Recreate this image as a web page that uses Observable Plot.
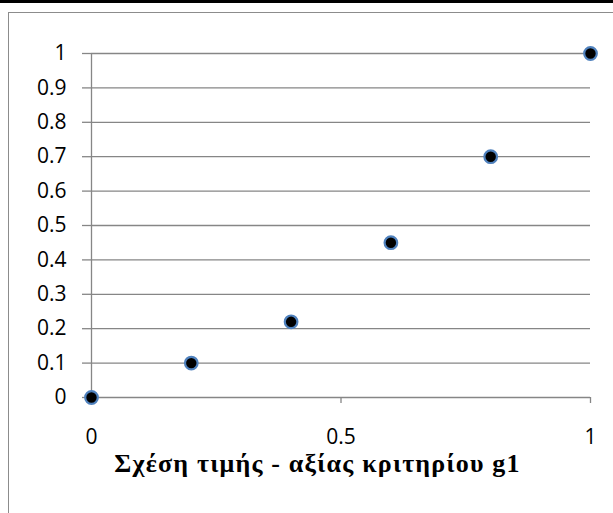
<!DOCTYPE html>
<html>
<head>
<meta charset="utf-8">
<script src="https://cdn.jsdelivr.net/npm/d3@7"></script>
<script src="https://cdn.jsdelivr.net/npm/@observablehq/plot@0.6"></script>
<style>
  html, body { margin: 0; padding: 0; background: #fff; }
  #wrap { position: relative; width: 613px; height: 513px; overflow: hidden; background: #fff; }
  #wrap svg { position: absolute; left: 0; top: 0; }
  .topbar { position: absolute; left: 0; top: 0; width: 613px; height: 3px; background: #000; }
  .frame { position: absolute; left: 8px; top: 12px; width: 700px; height: 600px; border-left: 1.5px solid #8c8c8c; border-top: 1.5px solid #8c8c8c; box-sizing: border-box; }
  #title { position: absolute; left: 0; top: 451px; width: 635px; text-align: center; white-space: nowrap;
           font-family: "Liberation Serif", "Times New Roman", serif; font-weight: bold; font-size: 26px; letter-spacing: 1.2px; line-height: 1; color: #000; }
</style>
</head>
<body>
<div id="wrap">
  <div class="topbar"></div>
  <div class="frame"></div>
  <div id="title"></div>
</div>
<script>
const xValues = [0, 0.2, 0.4, 0.6, 0.8, 1];
const yValues = [0, 0.1, 0.22, 0.45, 0.7, 1];
const xTicks = [0, 0.5, 1];
const yTicks = [0, 0.1, 0.2, 0.3, 0.4, 0.5, 0.6, 0.7, 0.8, 0.9, 1];
const titleText = "Σχέση τιμής - αξίας κριτηρίου g1";

const data = xValues.map((x, i) => ({x, y: yValues[i]}));
const fmt = d => String(+d.toFixed(2));

const chart = Plot.plot({
  width: 613,
  height: 513,
  marginLeft: 91,
  marginRight: 23,
  marginTop: 53,
  marginBottom: 116,
  style: {fontFamily: "'Open Sans', sans-serif", fontSize: "21px", color: "#000", background: "transparent"},
  x: {domain: [0, 1]},
  y: {domain: [0, 1]},
  marks: [
    Plot.gridY(yTicks, {stroke: "#868686", strokeOpacity: 1, strokeWidth: 1.3}),
    Plot.ruleX([0], {stroke: "#868686", strokeWidth: 1.3}),
    Plot.axisY(yTicks, {tickSize: 9, tickPadding: 16, stroke: "#868686", strokeWidth: 1.3, tickFormat: fmt, label: null, fill: "#000"}),
    Plot.axisX(xTicks, {tickSize: 6, tickPadding: 26, stroke: "#868686", strokeWidth: 1.3, tickFormat: fmt, fill: "#000", label: null}),
    Plot.dot(data, {x: "x", y: "y", r: 6.3, fill: "#000", stroke: "#4f81bd", strokeWidth: 2.2})
  ]
});
document.getElementById("wrap").insertBefore(chart, document.getElementById("title"));
document.getElementById("title").textContent = titleText;
</script>
</body>
</html>
